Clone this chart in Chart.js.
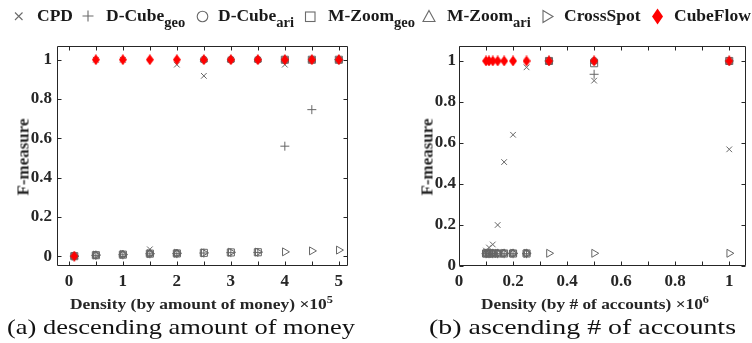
<!DOCTYPE html>
<html><head><meta charset="utf-8">
<script src="https://cdn.jsdelivr.net/npm/chart.js@4/dist/chart.umd.min.js"></script>
<style>
html,body{margin:0;padding:0;background:#fff;}
#wrap{position:relative;width:752px;height:343px;overflow:hidden;font-family:"Liberation Serif","Times New Roman",serif;color:#262626;}
canvas{position:absolute;top:0;}
.t{position:absolute;white-space:nowrap;line-height:1;transform-origin:0 0;}
.lg{font-weight:bold;font-size:17.5px;top:7px;color:#1a1a1a;}
.lg sub{font-size:14.5px;vertical-align:-0.42em;line-height:1;}
.xt{font-weight:bold;font-size:15.5px;top:294px;}
.xt sup{font-size:11px;vertical-align:0.55em;line-height:1;}
.cap{font-size:22px;top:316px;color:#111;}
.yl{position:absolute;font-weight:bold;font-size:17px;line-height:1;white-space:nowrap;transform:translate(-50%,-50%) rotate(-90deg);}
</style></head>
<body>
<div id="wrap">
<canvas id="ca" width="376" height="343" style="left:0"></canvas>
<canvas id="cb" width="376" height="343" style="left:376px"></canvas>
<svg style="position:absolute;left:0;top:0" width="752" height="32">
 <g stroke="#6b6b6b" stroke-width="1.1" fill="none">
  <path d="M15 12.5 L22.5 20 M22.5 12.5 L15 20"/>
  <path d="M88 10.5 L88 21.5 M82.5 16 L93.5 16"/>
  <circle cx="202.5" cy="16.5" r="5.3"/>
  <rect x="305.5" y="12" width="9.5" height="9.5"/>
  <path d="M429 10.5 L435 21.5 L423 21.5 Z"/>
  <path d="M543 10.5 L553 16.5 L543 22.5 Z"/>
 </g>
 <path d="M657.5 8.5 L663 16.5 L657.5 24.5 L652 16.5 Z" fill="#ff0000"/>
</svg>
<div class="t lg" style="left:37px">CPD</div>
<div class="t lg" style="left:106px">D-Cube<sub>geo</sub></div>
<div class="t lg" style="left:218px">D-Cube<sub>ari</sub></div>
<div class="t lg" style="left:328px">M-Zoom<sub>geo</sub></div>
<div class="t lg" style="left:447px">M-Zoom<sub>ari</sub></div>
<div class="t lg" style="left:564px">CrossSpot</div>
<div class="t lg" style="left:674px">CubeFlow</div>
<div class="yl" style="left:23px;top:157px">F-measure</div>
<div class="yl" style="left:426.5px;top:157px">F-measure</div>
<div class="t xt" data-w="263" style="left:70px">Density (by amount of money) ×10<sup>5</sup></div>
<div class="t xt" data-w="228" style="left:481px">Density (by # of accounts) ×10<sup>6</sup></div>
<div class="t cap" data-w="348" style="left:7px">(a) descending amount of money</div>
<div class="t cap" data-w="307" style="left:429px">(b) ascending # of accounts</div>
</div>
<script>
// ---------- Panel (a): descending amount of money (x in units of 1e5) ----------
const densityA   = [0.1, 0.5, 1, 1.5, 2, 2.5, 3, 3.5, 4, 4.5, 5];
const cpdA       = [0, 1, 1, 0.035, 0.975, 0.918, 1, 1, 0.975, 1, 1];
const dcubeGeoA  = [0, 0.004, 0.007, 0.012, 0.013, 0.016, 0.018, 0.019, 0.56, 0.746, 1];
const dcubeAriA  = [0, 0.005, 0.008, 0.013, 0.014, 1, 1, 1, 1, 1, 1];
const mzoomGeoA  = [0, 0.005, 0.008, 0.013, 0.014, 0.017, 0.019, 0.02, 1, 1, 1];
const mzoomAriA  = [0, 0.006, 0.009, 0.015, 0.015, 1, 1, 1, 1, 1, 1];
const crossSpotA = [0, 0.006, 0.009, 0.013, 0.015, 0.017, 0.02, 0.021, 0.022, 0.027, 0.031];
const cubeFlowA  = [0, 1, 1, 1, 1, 1, 1, 1, 1, 1, 1];
const xTicksA      = [0, 1, 2, 3, 4, 5];
const xTickLabelsA = ['0', '1', '2', '3', '4', '5'];
const xMinorA      = [0, 0.5, 1, 1.5, 2, 2.5, 3, 3.5, 4, 4.5, 5];

// ---------- Panel (b): ascending # of accounts (x in units of 1e6) ----------
const densityB   = [0.1, 0.111, 0.125, 0.143, 0.167, 0.2, 0.25, 0.333, 0.5, 1];
const cpdB       = [0.075, 0.09, 0.105, 0.2, 0.507, 0.64, 0.969, 1, 0.904, 0.569];
const dcubeGeoB  = [0.06, 0.06, 0.06, 0.06, 0.06, 0.06, 0.06, 1, 0.935, 1];
const dcubeAriB  = [0.062, 0.062, 0.062, 0.062, 0.062, 0.062, 0.062, 1, 1, 1];
const mzoomGeoB  = [0.061, 0.061, 0.061, 0.061, 0.061, 0.061, 0.061, 1, 0.989, 1];
const mzoomAriB  = [0.063, 0.063, 0.063, 0.063, 0.063, 0.063, 0.063, 1, 1, 1];
const crossSpotB = [0.062, 0.062, 0.062, 0.062, 0.062, 0.062, 0.062, 0.062, 0.062, 0.062];
const cubeFlowB  = [1, 1, 1, 1, 1, 1, 1, 1, 1, 1];
const xTicksB      = [0, 0.2, 0.4, 0.6, 0.8, 1];
const xTickLabelsB = ['0', '0.2', '0.4', '0.6', '0.8', '1'];
const xMinorB      = [0, 0.1, 0.2, 0.3, 0.4, 0.5, 0.6, 0.7, 0.8, 0.9, 1];

const yTicks      = [0, 0.2, 0.4, 0.6, 0.8, 1];
const yTickLabels = ['0', '0.2', '0.4', '0.6', '0.8', '1'];
const seriesNames = ['CPD', 'D-Cube_geo', 'D-Cube_ari', 'M-Zoom_geo', 'M-Zoom_ari', 'CrossSpot', 'CubeFlow'];

// ---------- styling ----------
const GRAY = '#666666', RED = '#ff0000', AXIS = '#262626';
function diamondImg(w, h, color) {
  const c = document.createElement('canvas'); c.width = w; c.height = h;
  const g = c.getContext('2d'); g.fillStyle = color; g.beginPath();
  g.moveTo(w / 2, 0); g.lineTo(w, h / 2); g.lineTo(w / 2, h); g.lineTo(0, h / 2); g.closePath(); g.fill();
  return c;
}
const redDiamond = diamondImg(8, 11, RED);
const markerStyles = [
  {pointStyle: 'crossRot', radius: 4},
  {pointStyle: 'cross', radius: 4.5},
  {pointStyle: 'circle', radius: 3.5},
  {pointStyle: 'rect', radius: 5},
  {pointStyle: 'triangle', radius: 4.2},
  {pointStyle: 'triangle', radius: 4.6, rotation: 90},
  {pointStyle: redDiamond, radius: 5}
];

function buildDatasets(xs, ysList) {
  return ysList.map((ys, k) => {
    const st = markerStyles[k];
    const isRed = k === 6;
    return {
      label: seriesNames[k],
      data: xs.map((x, i) => ({x: x, y: ys[i]})),
      showLine: false,
      pointStyle: st.pointStyle,
      pointRadius: st.radius,
      pointHoverRadius: st.radius,
      pointRotation: st.rotation || 0,
      borderColor: isRed ? RED : GRAY,
      backgroundColor: isRed ? RED : 'rgba(0,0,0,0)',
      pointBorderWidth: 1,
      order: isRed ? 0 : 1,
      clip: false
    };
  });
}

const boxPlugin = {
  id: 'boxTicks',
  afterDraw(chart, args, o) {
    const ctx = chart.ctx, a = chart.chartArea, xs = chart.scales.x, ys = chart.scales.y;
    const L = Math.round(a.left) + 0.5, R = Math.round(a.right) - 0.5, T = Math.round(a.top) + 0.5, B = Math.round(a.bottom) - 0.5;
    ctx.save();
    ctx.strokeStyle = AXIS; ctx.lineWidth = 1;
    ctx.beginPath();
    ctx.rect(L, T, R - L, B - T);
    const len = 4;
    o.xMinor.forEach(v => {
      const px = Math.round(xs.getPixelForValue(v)) + 0.5;
      ctx.moveTo(px, B); ctx.lineTo(px, B - len);
      ctx.moveTo(px, T); ctx.lineTo(px, T + len);
    });
    yTicks.forEach(v => {
      const py = Math.round(ys.getPixelForValue(v)) + 0.5;
      ctx.moveTo(L, py); ctx.lineTo(L + len, py);
      ctx.moveTo(R, py); ctx.lineTo(R - len, py);
    });
    ctx.stroke();
    ctx.restore();
  }
};

function makeChart(id, xs, ysList, cfg) {
  const tickFont = {family: '"Liberation Serif","Times New Roman",serif', size: 17, weight: 'bold'};
  return new Chart(document.getElementById(id), {
    type: 'scatter',
    data: {datasets: buildDatasets(xs, ysList)},
    options: {
      responsive: false, animation: false, devicePixelRatio: 1,
      layout: {padding: {top: 46, right: cfg.padRight, bottom: 0, left: 0}},
      plugins: {legend: {display: false}, tooltip: {enabled: false}, boxTicks: {xMinor: cfg.xMinor}},
      scales: {
        x: {
          type: 'linear', min: cfg.xMin, max: cfg.xMax,
          afterBuildTicks: s => { s.ticks = cfg.xTicks.map(v => ({value: v})); },
          afterFit: s => { s.height = 77; },
          ticks: {font: tickFont, color: AXIS, padding: 5, maxRotation: 0, autoSkip: false,
                  callback: (v) => cfg.xLabels[cfg.xTicks.indexOf(v)]},
          grid: {display: false, drawTicks: false}, border: {display: false}
        },
        y: {
          type: 'linear', min: cfg.yMin, max: cfg.yMax,
          afterBuildTicks: s => { s.ticks = yTicks.map(v => ({value: v})); },
          afterFit: s => { s.width = cfg.yWidth; },
          ticks: {font: tickFont, color: AXIS, padding: cfg.yPad, autoSkip: false,
                  callback: (v) => yTickLabels[yTicks.indexOf(v)]},
          grid: {display: false, drawTicks: false}, border: {display: false}
        }
      }
    },
    plugins: [boxPlugin]
  });
}

makeChart('ca', densityA, [cpdA, dcubeGeoA, dcubeAriA, mzoomGeoA, mzoomAriA, crossSpotA, cubeFlowA],
  {xMin: -0.22, xMax: 5.17, yMin: -0.05, yMax: 1.07, yWidth: 57, padRight: 28, yPad: 5,
   xTicks: xTicksA, xLabels: xTickLabelsA, xMinor: xMinorA});
makeChart('cb', densityB, [cpdB, dcubeGeoB, dcubeAriB, mzoomGeoB, mzoomAriB, crossSpotB, cubeFlowB],
  {xMin: 0, xMax: 1.062, yMin: 0, yMax: 1.073, yWidth: 83, padRight: 3, yPad: 3,
   xTicks: xTicksB, xLabels: xTickLabelsB, xMinor: xMinorB});

// fit caption / title widths to the reference extents
document.querySelectorAll('[data-w]').forEach(el => {
  const w = el.getBoundingClientRect().width;
  const target = parseFloat(el.dataset.w);
  if (w > 0) el.style.transform = 'scaleX(' + (target / w) + ')';
});
</script>
</body></html>
